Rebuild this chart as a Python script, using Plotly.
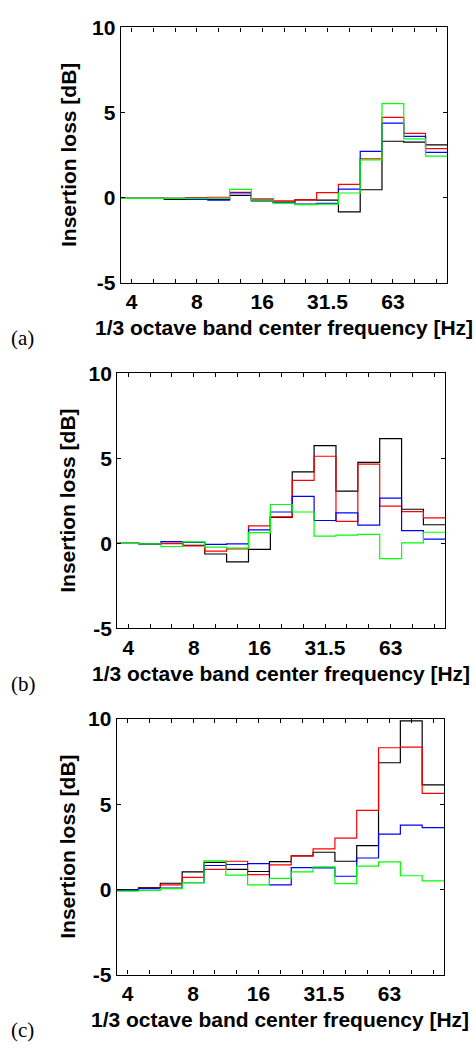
import numpy as np
import plotly.graph_objects as go

# 1/3-octave band centre frequencies [Hz]
bands = ["4", "5", "6.3", "8", "10", "12.5", "16", "20", "25", "31.5", "40", "50", "63", "80", "100"]
labelled_bands = ["4", "8", "16", "31.5", "63"]

# Insertion loss [dB] per band, panel (a)
a_black = [-0.05, -0.05, -0.10, -0.10, -0.10, 0.13, -0.19, -0.27, -0.13, -0.15, -0.84, 0.46, 3.31, 3.26, 3.10]
a_red   = [-0.05, -0.05, -0.05, 0.00, 0.02, 0.30, -0.08, -0.19, -0.13, 0.29, 0.77, 2.28, 4.71, 3.77, 2.87]
a_blue  = [-0.05, -0.05, -0.05, -0.10, -0.15, 0.27, -0.15, -0.30, -0.38, -0.34, 0.50, 2.72, 4.37, 3.60, 2.66]
a_green = [-0.05, -0.05, -0.05, -0.05, -0.04, 0.48, -0.15, -0.33, -0.42, -0.38, 0.27, 2.22, 5.52, 3.45, 2.43]

# Panel (b)
b_black = [0.00, -0.04, 0.00, -0.12, -0.63, -1.09, -0.36, 1.52, 4.20, 5.74, 3.07, 4.76, 6.16, 2.00, 1.09]
b_red   = [0.00, -0.03, -0.02, -0.15, -0.46, -0.33, 1.02, 1.55, 3.70, 5.12, 1.29, 4.66, 2.19, 1.86, 1.50]
b_blue  = [0.00, -0.03, 0.10, 0.05, -0.06, -0.04, 0.79, 1.84, 2.76, 1.34, 1.79, 1.07, 2.65, 0.75, 0.25]
b_green = [0.00, -0.03, -0.19, 0.08, -0.23, -0.29, 0.63, 2.28, 1.84, 0.42, 0.48, 0.52, -0.90, 0.02, 0.65]

# Panel (c)
c_black = [-0.02, 0.11, 0.36, 1.03, 1.59, 1.17, 1.05, 1.63, 1.97, 2.18, 1.65, 2.57, 7.43, 9.89, 6.13]
c_red   = [-0.05, 0.08, 0.27, 0.71, 1.17, 1.65, 0.86, 1.44, 1.97, 2.38, 3.01, 4.64, 8.31, 8.35, 5.63]
c_blue  = [-0.04, 0.04, 0.08, 0.40, 1.40, 1.46, 1.51, 0.27, 1.28, 1.26, 0.77, 1.84, 3.24, 3.77, 3.62]
c_green = [-0.10, -0.06, 0.04, 0.40, 1.67, 0.84, 0.27, 0.65, 1.03, 1.32, 0.34, 1.36, 1.61, 0.80, 0.50]

y_ticks = [-5, 0, 5, 10]
y_ticktext = ["-5", "0", "5", "10"]

panels = [
    ("(a)", [a_black, a_red, a_blue, a_green]),
    ("(b)", [b_black, b_red, b_blue, b_green]),
    ("(c)", [c_black, c_red, c_blue, c_green]),
]
colors = ["#000000", "#ff0000", "#0000ff", "#00ff00"]

W, H = 475, 1057
# plot boxes in pixels: (left, right, top, bottom)
boxes = [
    (120.7, 447.3, 15.7, 276.7),
    (117.3, 445.3, 369.3, 630.0),
    (116.7, 444.0, 722.7, 984.0),
]

FONT = "Liberation Sans, Arial, sans-serif"
SERIF = "Liberation Serif, Times New Roman, serif"

idx = np.arange(len(bands))
# band edges: each value spans its own band, centred on the band index
edges = np.append(idx - 0.5, idx[-1] + 0.5)

fig = go.Figure()
layout = dict(
    width=W, height=H,
    margin=dict(l=0, r=0, t=0, b=0),
    paper_bgcolor="white", plot_bgcolor="white",
    showlegend=False,
)
annotations = []

x_ticktext = [b if b in labelled_bands else "" for b in bands]

for i, ((letter, series), (l, r, t, b)) in enumerate(zip(panels, boxes)):
    n = "" if i == 0 else str(i + 1)
    for vals, col in zip(series, colors):
        y = np.append(vals, vals[-1])
        fig.add_trace(go.Scatter(
            x=edges, y=y, mode="lines", line=dict(color=col, width=1.2, shape="hv"),
            xaxis="x" + n, yaxis="y" + n, hoverinfo="skip",
        ))
    layout["xaxis" + n] = dict(
        domain=[l / W, r / W], anchor="y" + n, range=[-0.5, 14.5],
        tickmode="array", tickvals=list(idx), ticktext=x_ticktext,
        ticks="inside", ticklen=4, tickwidth=1, tickcolor="black",
        showline=True, linecolor="black", linewidth=1.3, mirror="ticks",
        showgrid=False, zeroline=False,
        tickfont=dict(family=FONT, size=21, color="black", weight="bold"),
    )
    layout["yaxis" + n] = dict(
        domain=[1 - b / H, 1 - t / H], anchor="x" + n, range=[-5, 10],
        tickmode="array", tickvals=y_ticks, ticktext=y_ticktext,
        ticks="inside", ticklen=4, tickwidth=1, tickcolor="black",
        showline=True, linecolor="black", linewidth=1.3, mirror="ticks",
        showgrid=False, zeroline=False,
        tickfont=dict(family=FONT, size=21, color="black", weight="bold"),
    )
    cx = (l + r) / 2
    cy = (t + b) / 2
    annotations.append(dict(
        text="<b>1/3 octave band center frequency [Hz]</b>", xref="paper", yref="paper",
        x=cx / W, y=1 - (b + 46) / H, xanchor="center", yanchor="middle", showarrow=False,
        font=dict(family=FONT, size=21, color="black"),
    ))
    annotations.append(dict(
        text="<b>Insertion loss [dB]</b>", xref="paper", yref="paper", textangle=-90,
        x=68 / W, y=1 - cy / H, xanchor="center", yanchor="middle", showarrow=False,
        font=dict(family=FONT, size=21, color="black"),
    ))
    annotations.append(dict(
        text=letter, xref="paper", yref="paper",
        x=9 / W, y=1 - (b + 57) / H, xanchor="left", yanchor="middle", showarrow=False,
        font=dict(family=SERIF, size=21, color="black"),
    ))

layout["annotations"] = annotations
fig.update_layout(**layout)
fig.write_html("out.html")
